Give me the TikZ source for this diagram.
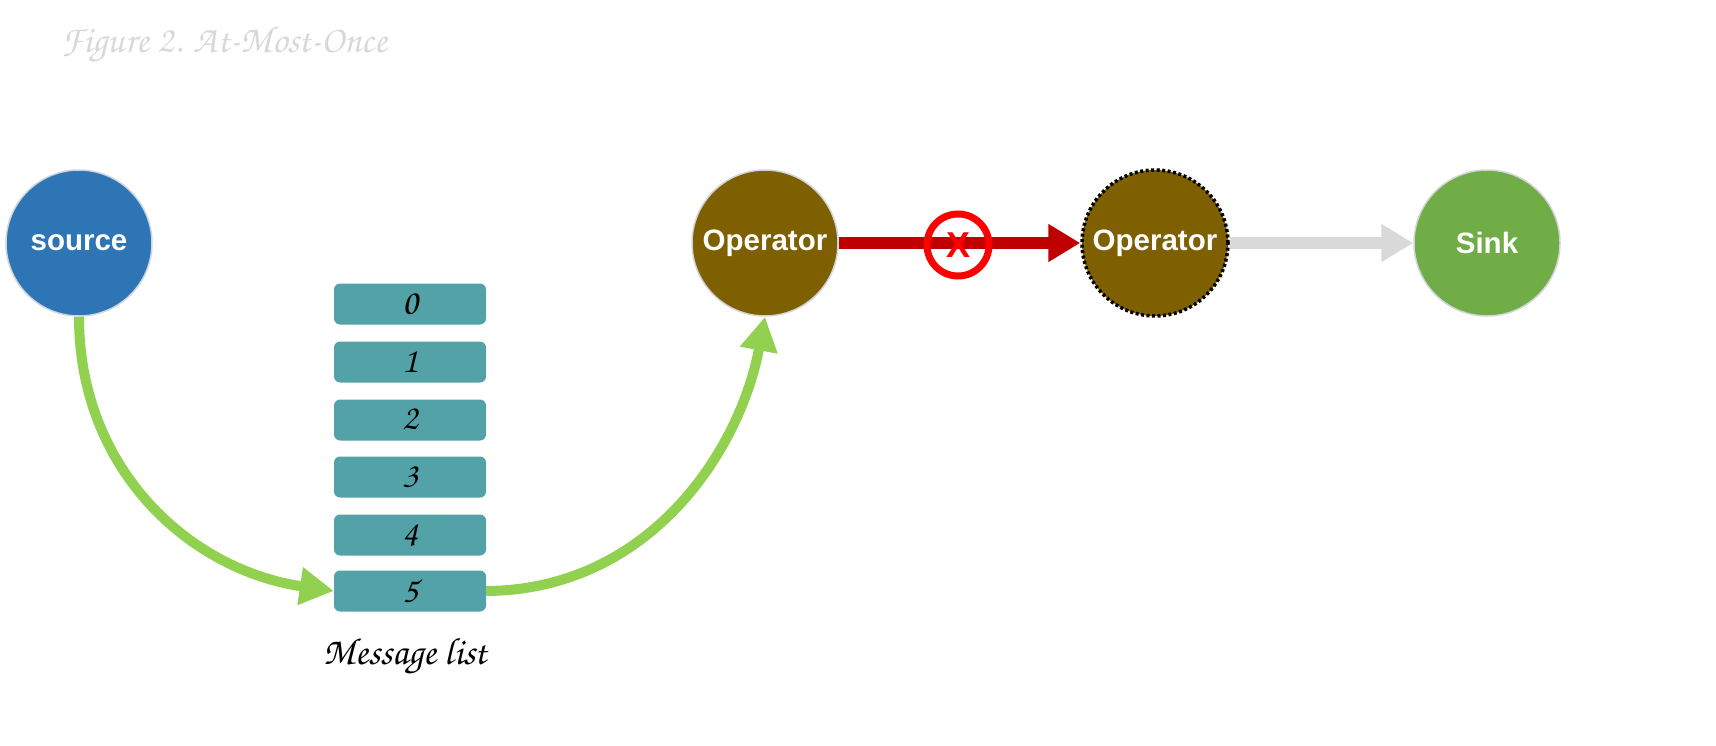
\documentclass[tikz,border=0pt]{standalone}
\usepackage{fontspec}
\setmainfont{Liberation Sans}
\newfontfamily\chorus{TeX Gyre Chorus}
\usetikzlibrary{arrows.meta}
\definecolor{srcblue}{HTML}{2E75B6}
\definecolor{opbrown}{HTML}{7F6000}
\definecolor{sinkgreen}{HTML}{70AD47}
\definecolor{flowgreen}{HTML}{92D050}
\definecolor{boxteal}{HTML}{52A2A8}
\definecolor{darkred}{HTML}{C00000}
\definecolor{lightgray}{HTML}{D9D9D9}
\definecolor{rimgray}{HTML}{D0D5DC}
\definecolor{titlegray}{HTML}{D8D8D8}
\tikzset{
  procnode/.style={circle, minimum size=146pt, inner sep=0pt, draw=rimgray, line width=1.5pt,
    text=white, font=\fontsize{29.5}{32}\selectfont\bfseries},
  msgbox/.style={rectangle, rounded corners=6pt, fill=boxteal, minimum width=152pt, minimum height=41pt,
    inner sep=0pt, font=\chorus\fontsize{36}{38}\selectfont},
  flow/.style={line width=10pt, draw=flowgreen, -{Triangle[length=34pt,width=36pt]}},
  redflow/.style={line width=12pt, draw=darkred, -{Triangle[length=32pt,width=36pt]}},
  grayflow/.style={line width=12pt, draw=lightgray, -{Triangle[length=32pt,width=36pt]}},
}
\begin{document}
\begin{tikzpicture}[x=1pt,y=-1pt]
\useasboundingbox (0,0) rectangle (1716,746);
\node[anchor=west, text=titlegray, font=\chorus\fontsize{38}{40}\selectfont] (title) at (58,44) {Figure 2. At-Most-Once};
\node[procnode, fill=srcblue] (src) at (79,243) {source};
\node[procnode, fill=opbrown] (op1) at (765,243) {Operator};
\node[procnode, fill=opbrown, draw=black, dash pattern=on 3pt off 2.5pt, line width=3.5pt] (op2) at (1155,243) {Operator};
\node[procnode, fill=sinkgreen] (sink) at (1487,243) {Sink};
\foreach \i/\y in {0/304,1/362,2/420,3/477,4/535,5/591}{
  \node[msgbox] (b\i) at (410,\y) {\i};
}
\node[font=\chorus\fontsize{38}{40}\selectfont] (label) at (405,656) {Message list};
\draw[flow] (src.south) .. controls (79,470) and (190,570) .. (b5.west);
\draw[flow] (b5.east) .. controls (650,590) and (740,450) .. (op1.south);
\draw[redflow] (op1.east) -- (op2.west);
\draw[grayflow] (op2.east) -- (sink.west);
\node[circle, draw=red, line width=7pt, minimum size=62pt, inner sep=0pt, text=red,
  font=\fontsize{36}{38}\selectfont\bfseries] (x) at (958,245) {X};
\end{tikzpicture}
\end{document}
